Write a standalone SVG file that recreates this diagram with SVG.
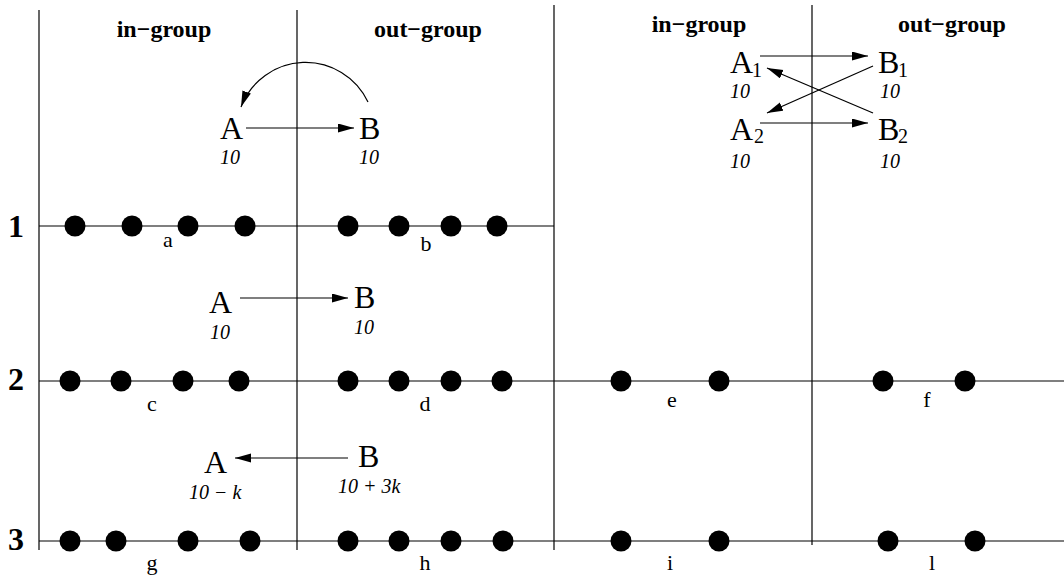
<svg xmlns="http://www.w3.org/2000/svg" width="1064" height="579" viewBox="0 0 1064 579">
<style>
  .grid { stroke: #000; stroke-width: 1.2; fill: none; }
  .conn { stroke: #000; stroke-width: 1.2; fill: none; marker-end: url(#arr); }
  .dot { fill: #000; }
  .hdr { font-family: "Liberation Serif", "Times New Roman", serif; font-weight: bold; font-size: 24px; text-anchor: middle; fill: #000; }
  .rowlbl { font-family: "Liberation Serif", "Times New Roman", serif; font-weight: bold; font-size: 32px; text-anchor: middle; fill: #000; }
  .nm { font-family: "Liberation Serif", "Times New Roman", serif; font-size: 32px; fill: #000; }
  .sub { font-family: "Liberation Serif", "Times New Roman", serif; font-size: 20px; fill: #000; }
  .val { font-family: "Liberation Serif", "Times New Roman", serif; font-style: italic; font-size: 20px; fill: #000; }
  .lbl { font-family: "Liberation Serif", "Times New Roman", serif; font-size: 22px; text-anchor: middle; fill: #000; }
</style>
<defs>
  <marker id="arr" markerUnits="userSpaceOnUse" markerWidth="17" markerHeight="10" refX="16" refY="4.5" orient="auto">
    <path d="M0,0 L16,4.5 L0,9 Z" fill="#000"/>
  </marker>
</defs>
<rect width="1064" height="579" fill="#fff"/>

<g id="grid">
  <line class="grid" x1="39" y1="10" x2="39" y2="550"/>
  <line class="grid" x1="297" y1="10" x2="297" y2="550"/>
  <line class="grid" x1="554" y1="5" x2="554" y2="550"/>
  <line class="grid" x1="812" y1="5" x2="812" y2="545"/>
  <line class="grid" x1="39" y1="226" x2="554" y2="226"/>
  <line class="grid" x1="39" y1="381" x2="1064" y2="381"/>
  <line class="grid" x1="39" y1="541" x2="1064" y2="541"/>
</g>

<g id="headers">
  <text class="hdr" x="164" y="37">in−group</text>
  <text class="hdr" x="428" y="37">out−group</text>
  <text class="hdr" x="699" y="32">in−group</text>
  <text class="hdr" x="952" y="32">out−group</text>
</g>

<g id="row-labels">
  <text class="rowlbl" x="16" y="237" font-size="32">1</text>
  <text class="rowlbl" x="16" y="390" font-size="32">2</text>
  <text class="rowlbl" x="16" y="550" font-size="32">3</text>
</g>

<g id="seg-a">
  <circle class="dot" cx="75" cy="226" r="10.5"/><circle class="dot" cx="132" cy="226" r="10.5"/>
  <circle class="dot" cx="188" cy="226" r="10.5"/><circle class="dot" cx="245" cy="226" r="10.5"/>
  <text class="lbl" x="168" y="247">a</text>
</g>
<g id="seg-b">
  <circle class="dot" cx="348" cy="226" r="10.5"/><circle class="dot" cx="399" cy="226" r="10.5"/>
  <circle class="dot" cx="451" cy="226" r="10.5"/><circle class="dot" cx="497" cy="226" r="10.5"/>
  <text class="lbl" x="426" y="251">b</text>
</g>
<g id="seg-c">
  <circle class="dot" cx="70" cy="381" r="10.5"/><circle class="dot" cx="121" cy="381" r="10.5"/>
  <circle class="dot" cx="183" cy="381" r="10.5"/><circle class="dot" cx="239" cy="381" r="10.5"/>
  <text class="lbl" x="152" y="411">c</text>
</g>
<g id="seg-d">
  <circle class="dot" cx="348" cy="381" r="10.5"/><circle class="dot" cx="399" cy="381" r="10.5"/>
  <circle class="dot" cx="451" cy="381" r="10.5"/><circle class="dot" cx="502" cy="381" r="10.5"/>
  <text class="lbl" x="425" y="411">d</text>
</g>
<g id="seg-e">
  <circle class="dot" cx="621" cy="381" r="10.5"/><circle class="dot" cx="719" cy="381" r="10.5"/>
  <text class="lbl" x="672" y="407">e</text>
</g>
<g id="seg-f">
  <circle class="dot" cx="883" cy="381" r="10.5"/><circle class="dot" cx="965" cy="381" r="10.5"/>
  <text class="lbl" x="927" y="407">f</text>
</g>
<g id="seg-g">
  <circle class="dot" cx="70" cy="541" r="10.5"/><circle class="dot" cx="116" cy="541" r="10.5"/>
  <circle class="dot" cx="188" cy="541" r="10.5"/><circle class="dot" cx="250" cy="541" r="10.5"/>
  <text class="lbl" x="152" y="570">g</text>
</g>
<g id="seg-h">
  <circle class="dot" cx="348" cy="541" r="10.5"/><circle class="dot" cx="399" cy="541" r="10.5"/>
  <circle class="dot" cx="451" cy="541" r="10.5"/><circle class="dot" cx="503" cy="541" r="10.5"/>
  <text class="lbl" x="425" y="570">h</text>
</g>
<g id="seg-i">
  <circle class="dot" cx="621" cy="541" r="10.5"/><circle class="dot" cx="719" cy="541" r="10.5"/>
  <text class="lbl" x="670" y="570">i</text>
</g>
<g id="seg-l">
  <circle class="dot" cx="888" cy="541" r="10.5"/><circle class="dot" cx="975" cy="541" r="10.5"/>
  <text class="lbl" x="932" y="570">l</text>
</g>

<g id="node-A-top"><text class="nm" x="220" y="139">A</text><text class="val" x="220" y="164">10</text></g>
<g id="node-B-top"><text class="nm" x="359" y="139">B</text><text class="val" x="359" y="164">10</text></g>
<g id="node-A-mid"><text class="nm" x="209" y="313">A</text><text class="val" x="210" y="339">10</text></g>
<g id="node-B-mid"><text class="nm" x="354" y="308">B</text><text class="val" x="354" y="334">10</text></g>
<g id="node-A-bot"><text class="nm" x="204" y="473">A</text><text class="val" x="189" y="499">10 − k</text></g>
<g id="node-B-bot"><text class="nm" x="358" y="467">B</text><text class="val" x="338" y="493">10 + 3k</text></g>

<g id="node-A1"><text class="nm" x="730" y="73">A</text><text class="sub" x="752" y="77">1</text><text class="val" x="730" y="98">10</text></g>
<g id="node-B1"><text class="nm" x="878" y="73">B</text><text class="sub" x="898" y="77">1</text><text class="val" x="880" y="98">10</text></g>
<g id="node-A2"><text class="nm" x="730" y="140">A</text><text class="sub" x="754" y="143">2</text><text class="val" x="730" y="168">10</text></g>
<g id="node-B2"><text class="nm" x="878" y="140">B</text><text class="sub" x="898" y="143">2</text><text class="val" x="880" y="168">10</text></g>

<g id="connectors">
  <line class="conn" x1="246" y1="128" x2="354" y2="128"/>
  <path class="conn" d="M368,102 A69,69 0 0 0 241,107"/>
  <line class="conn" x1="240" y1="298" x2="348" y2="298"/>
  <line class="conn" x1="348" y1="458" x2="235" y2="458"/>
  <line class="conn" x1="760" y1="56" x2="868" y2="56"/>
  <line class="conn" x1="760" y1="123" x2="868" y2="123"/>
  <line class="conn" x1="873" y1="113" x2="767" y2="68"/>
  <line class="conn" x1="873" y1="66" x2="767" y2="113"/>
</g>
</svg>
